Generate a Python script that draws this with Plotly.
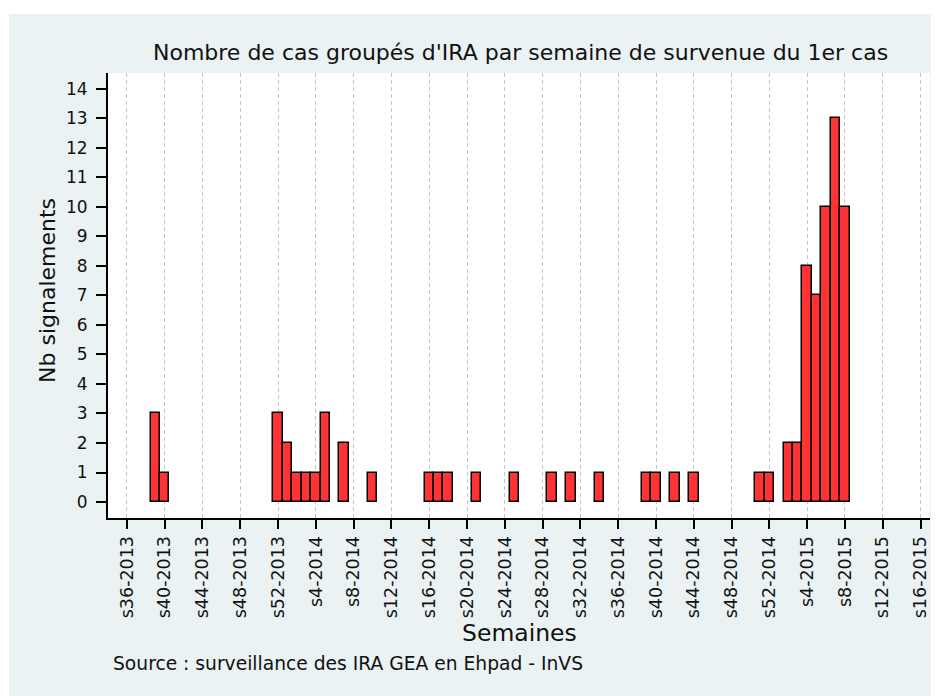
import plotly.graph_objects as go

# ---- data ----
case_weeks = ["s39-2013", "s40-2013", "s52-2013", "s1-2014", "s2-2014", "s3-2014",
              "s4-2014", "s5-2014", "s7-2014", "s10-2014", "s16-2014", "s17-2014",
              "s18-2014", "s21-2014", "s25-2014", "s29-2014", "s31-2014", "s34-2014",
              "s39-2014", "s40-2014", "s42-2014", "s44-2014", "s51-2014", "s52-2014",
              "s2-2015", "s3-2015", "s4-2015", "s5-2015", "s6-2015", "s7-2015", "s8-2015"]
case_counts = [3, 1, 3, 2, 1, 1,
               1, 3, 2, 1, 1, 1,
               1, 1, 1, 1, 1, 1,
               1, 1, 1, 1, 1, 1,
               2, 2, 8, 7, 10, 13, 10]

tick_labels = ["s36-2013", "s40-2013", "s44-2013", "s48-2013", "s52-2013",
               "s4-2014", "s8-2014", "s12-2014", "s16-2014", "s20-2014", "s24-2014",
               "s28-2014", "s32-2014", "s36-2014", "s40-2014", "s44-2014", "s48-2014",
               "s52-2014", "s4-2015", "s8-2015", "s12-2015", "s16-2015"]
y_ticks = list(range(0, 15))

# axis week sequence (s36-2013 .. s16-2015)
all_weeks = ([f"s{w}-2013" for w in range(36, 53)] +
             [f"s{w}-2014" for w in range(1, 53)] +
             [f"s{w}-2015" for w in range(1, 17)])
x_pos = [all_weeks.index(w) for w in case_weeks]
tick_pos = [all_weeks.index(t) for t in tick_labels]

# ---- layout geometry (page pixels; the page body adds an 8px offset) ----
OFF = 8
PAGE_W, PAGE_H = 939, 696
W, H = PAGE_W - OFF, PAGE_H - OFF
L, R, T, B = 108, 930, 73, 518          # plot area in page pixels
PW, PH = R - L, B - T


def px(x):
    return (x - L) / PW


def py(y):
    return (B - y) / PH


FONT = "DejaVu Sans"
TXT = "#111111"
BG = "#EAF2F3"

fig = go.Figure()
fig.add_trace(go.Bar(
    x=x_pos, y=case_counts, width=1,
    marker=dict(color="#FF3333", line=dict(color="#000000", width=1.5)),
    hoverinfo="y",
))

fig.update_layout(
    width=W, height=H,
    margin=dict(l=L - OFF, r=PAGE_W - R, t=T - OFF, b=PAGE_H - B, autoexpand=False),
    paper_bgcolor=BG, plot_bgcolor="#FFFFFF",
    showlegend=False, bargap=0,
    font=dict(family=FONT, color=TXT),
    xaxis=dict(
        range=[-2.0, 85.0], tickmode="array", tickvals=tick_pos, ticktext=tick_labels,
        tickangle=-90, ticks="outside", ticklen=9, tickwidth=1.5, tickcolor="#000",
        tickfont=dict(family=FONT, size=17.5, color=TXT),
        showline=True, linecolor="#000", linewidth=2,
        showgrid=True, gridcolor="#C4C4C4", gridwidth=1.2, griddash="4px,3px",
        zeroline=False, fixedrange=True,
    ),
    yaxis=dict(
        range=[-0.54, 14.53], tickmode="array", tickvals=y_ticks,
        ticks="outside", ticklen=10, tickwidth=1.5, tickcolor="#000",
        tickfont=dict(family=FONT, size=17, color=TXT), ticklabelstandoff=5,
        showline=True, linecolor="#000", linewidth=2,
        showgrid=False, zeroline=False, fixedrange=True,
    ),
    shapes=[
        dict(type="rect", xref="paper", yref="paper", x0=px(0), x1=px(PAGE_W), y0=py(14), y1=py(0),
             fillcolor="#FFFFFF", line=dict(width=0), layer="below"),
        dict(type="rect", xref="paper", yref="paper", x0=px(0), x1=px(9), y0=py(PAGE_H), y1=py(0),
             fillcolor="#FFFFFF", line=dict(width=0), layer="below"),
    ],
    annotations=[
        dict(text="Nombre de cas groupés d'IRA par semaine de survenue du 1er cas",
             xref="paper", yref="paper", x=px(520), y=py(53), xanchor="center", yanchor="middle",
             showarrow=False, font=dict(family=FONT, size=22, color=TXT)),
        dict(text="Semaines", xref="paper", yref="paper", x=px(519), y=py(633),
             xanchor="center", yanchor="middle", showarrow=False,
             font=dict(family=FONT, size=23.5, color=TXT)),
        dict(text="Nb signalements", xref="paper", yref="paper", x=px(47), y=py(290),
             xanchor="center", yanchor="middle", textangle=-90, showarrow=False,
             font=dict(family=FONT, size=22, color=TXT)),
        dict(text="Source : surveillance des IRA GEA en Ehpad - InVS", xref="paper", yref="paper",
             x=px(111), y=py(663), xanchor="left", yanchor="middle", showarrow=False,
             font=dict(family=FONT, size=18.7, color=TXT)),
    ],
)

fig.write_html("out.html")
